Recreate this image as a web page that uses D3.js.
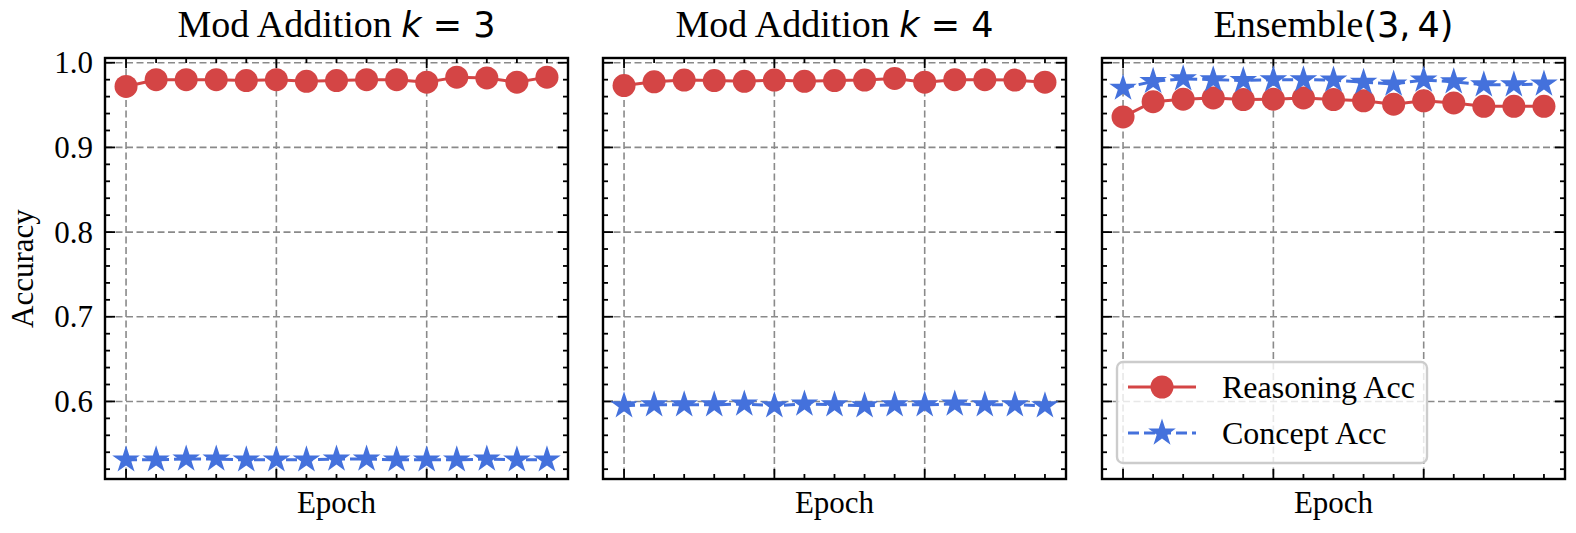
<!DOCTYPE html>
<html>
<head>
<meta charset="utf-8">
<script src="https://cdn.jsdelivr.net/npm/d3@7"></script>
<style>
  body { margin: 0; background: #fff; }
  svg { display: block; }
</style>
</head>
<body>
<div id="chart"></div>
<script>
// data
const epochs = [0, 1, 2, 3, 4, 5, 6, 7, 8, 9, 10, 11, 12, 13, 14];

const reasonK3 = [0.972, 0.980, 0.980, 0.980, 0.979, 0.980, 0.978, 0.979, 0.980, 0.980, 0.977, 0.983, 0.982, 0.977, 0.983];
const conceptK3 = [0.531, 0.531, 0.532, 0.532, 0.531, 0.531, 0.531, 0.532, 0.532, 0.531, 0.531, 0.531, 0.532, 0.531, 0.531];

const reasonK4 = [0.973, 0.9775, 0.9795, 0.979, 0.978, 0.9795, 0.978, 0.979, 0.9795, 0.9815, 0.977, 0.980, 0.980, 0.9795, 0.977];
const conceptK4 = [0.595, 0.596, 0.596, 0.596, 0.597, 0.595, 0.597, 0.596, 0.595, 0.596, 0.596, 0.597, 0.596, 0.596, 0.595];

const reasonEns = [0.936, 0.954, 0.957, 0.9585, 0.9565, 0.957, 0.9585, 0.9565, 0.955, 0.951, 0.955, 0.9525, 0.9485, 0.9485, 0.9485];
const conceptEns = [0.970, 0.978, 0.981, 0.980, 0.979, 0.980, 0.980, 0.9795, 0.977, 0.975, 0.9795, 0.9775, 0.974, 0.974, 0.975];

const yTicks = [0.6, 0.7, 0.8, 0.9, 1.0];
const xMajorTicks = [0, 5, 10];

const panels = [
  { title: [["Mod Addition ", "serif"], ["k", "mathit"], [" = 3", "math"]], reason: reasonK3, concept: conceptK3 },
  { title: [["Mod Addition ", "serif"], ["k", "mathit"], [" = 4", "math"]], reason: reasonK4, concept: conceptK4 },
  { title: [["Ensemble", "serif"], ["(3,\u20094)", "math"]], reason: reasonEns, concept: conceptEns }
];

const redColor = "#d44545";
const blueColor = "#4471dc";
const serif = "'Liberation Serif', 'Times New Roman', serif";
const mathFont = "'DejaVu Sans', sans-serif";
const fontSize = 31;

// layout
const svgWidth = 1576,
    svgHeight = 533,
    panelLefts = [105, 603, 1102],
    panelWidth = 463,
    plotTop = 58,
    plotBottom = 479;

const svg = d3.select("#chart")
  .append("svg")
  .attr("width", svgWidth)
  .attr("height", svgHeight);

// shared y range with matplotlib style 5% margins
const allVals = [].concat(reasonK3, conceptK3, reasonK4, conceptK4, reasonEns, conceptEns);
const yMin = d3.min(allVals), yMax = d3.max(allVals);
const yPad = (yMax - yMin) * 0.05;
const y = d3.scaleLinear().domain([yMin - yPad, yMax + yPad]).range([plotBottom, plotTop]);

const xPad = (d3.max(epochs) - d3.min(epochs)) * 0.05;

// star like matplotlib's "*" marker
function starPath(R) {
  const pts = [];
  for (let i = 0; i < 10; i++) {
    const a = -Math.PI / 2 + i * Math.PI / 5;
    const r = i % 2 === 0 ? R : R * 0.381966;
    pts.push([r * Math.cos(a), r * Math.sin(a)]);
  }
  return "M" + pts.map(p => p.join(",")).join("L") + "Z";
}

const minorY = d3.range(0.52, 1.0051, 0.02);

panels.forEach((p, pi) => {
  const left = panelLefts[pi];
  const x = d3.scaleLinear()
    .domain([d3.min(epochs) - xPad, d3.max(epochs) + xPad])
    .range([left, left + panelWidth]);

  const g = svg.append("g");

  // grid
  g.selectAll(".hgrid").data(yTicks).join("line")
    .attr("x1", left).attr("x2", left + panelWidth)
    .attr("y1", d => y(d)).attr("y2", d => y(d))
    .attr("stroke", "#8a8a8a").attr("stroke-width", 1.6)
    .attr("stroke-dasharray", "7,3.5");
  g.selectAll(".vgrid").data(xMajorTicks).join("line")
    .attr("x1", d => x(d)).attr("x2", d => x(d))
    .attr("y1", plotTop).attr("y2", plotBottom)
    .attr("stroke", "#8a8a8a").attr("stroke-width", 1.6)
    .attr("stroke-dasharray", "7,3.5");

  // ticks, all pointing inwards
  const tickG = g.append("g").attr("stroke", "#000").attr("stroke-width", 1.8);
  minorY.forEach(v => {
    const major = yTicks.some(t => Math.abs(t - v) < 1e-6);
    const len = major ? 10 : 5;
    tickG.append("line").attr("x1", left).attr("x2", left + len).attr("y1", y(v)).attr("y2", y(v));
    tickG.append("line").attr("x1", left + panelWidth).attr("x2", left + panelWidth - len).attr("y1", y(v)).attr("y2", y(v));
  });
  epochs.forEach(e => {
    const len = xMajorTicks.includes(e) ? 10 : 5;
    tickG.append("line").attr("x1", x(e)).attr("x2", x(e)).attr("y1", plotBottom).attr("y2", plotBottom - len);
    tickG.append("line").attr("x1", x(e)).attr("x2", x(e)).attr("y1", plotTop).attr("y2", plotTop + len);
  });

  // lines
  const line = d3.line().x((d, i) => x(epochs[i])).y(d => y(d));
  g.append("path").datum(p.reason)
    .attr("d", line).attr("fill", "none")
    .attr("stroke", redColor).attr("stroke-width", 3);
  g.selectAll(".dot").data(p.reason).join("circle")
    .attr("cx", (d, i) => x(epochs[i])).attr("cy", d => y(d))
    .attr("r", 11.5).attr("fill", redColor);

  g.append("path").datum(p.concept)
    .attr("d", line).attr("fill", "none")
    .attr("stroke", blueColor).attr("stroke-width", 3)
    .attr("stroke-dasharray", "11,5");
  g.selectAll(".star").data(p.concept).join("path")
    .attr("transform", (d, i) => `translate(${x(epochs[i])},${y(d)})`)
    .attr("d", starPath(14.5)).attr("fill", blueColor);

  // frame
  g.append("rect")
    .attr("x", left).attr("y", plotTop)
    .attr("width", panelWidth).attr("height", plotBottom - plotTop)
    .attr("fill", "none").attr("stroke", "#000").attr("stroke-width", 2.4);

  // title
  const title = g.append("text")
    .attr("x", left + panelWidth / 2).attr("y", 37)
    .attr("text-anchor", "middle");
  p.title.forEach(([txt, kind]) => {
    title.append("tspan")
      .attr("font-family", kind === "serif" ? serif : mathFont)
      .attr("font-style", kind === "mathit" ? "oblique" : "normal")
      .attr("font-size", kind === "serif" ? 38 : 35)
      .text(txt);
  });

  // x label
  g.append("text")
    .attr("x", left + panelWidth / 2).attr("y", 513)
    .attr("text-anchor", "middle")
    .attr("font-family", serif).attr("font-size", fontSize)
    .text("Epoch");

  // y tick labels only on first panel
  if (pi === 0) {
    g.selectAll(".ylab").data(yTicks).join("text")
      .attr("x", left - 12).attr("y", d => y(d))
      .attr("dy", "0.34em")
      .attr("text-anchor", "end")
      .attr("font-family", serif).attr("font-size", fontSize)
      .text(d => d.toFixed(1));

    g.append("text")
      .attr("transform", `translate(33,${(plotTop + plotBottom) / 2}) rotate(-90)`)
      .attr("text-anchor", "middle")
      .attr("font-family", serif).attr("font-size", fontSize)
      .text("Accuracy");
  }
});

// legend in the last panel
const legend = svg.append("g");
legend.append("rect")
  .attr("x", 1117).attr("y", 362)
  .attr("width", 310).attr("height", 101)
  .attr("rx", 6)
  .attr("fill", "#fff").attr("fill-opacity", 0.8)
  .attr("stroke", "#cccccc").attr("stroke-width", 2.4);

const legendItems = [
  { label: "Reasoning Acc", color: redColor, marker: "circle", dash: null, yPos: 387 },
  { label: "Concept Acc", color: blueColor, marker: "star", dash: "11,5", yPos: 433 }
];

legendItems.forEach(item => {
  legend.append("line")
    .attr("x1", 1128).attr("x2", 1196)
    .attr("y1", item.yPos).attr("y2", item.yPos)
    .attr("stroke", item.color).attr("stroke-width", 3)
    .attr("stroke-dasharray", item.dash);
  if (item.marker === "circle") {
    legend.append("circle").attr("cx", 1162).attr("cy", item.yPos).attr("r", 11.5).attr("fill", item.color);
  } else {
    legend.append("path").attr("transform", `translate(1162,${item.yPos})`).attr("d", starPath(14.5)).attr("fill", item.color);
  }
  legend.append("text")
    .attr("x", 1222).attr("y", item.yPos)
    .attr("dy", "0.34em")
    .attr("font-family", serif).attr("font-size", fontSize + 1)
    .text(item.label);
});
</script>
</body>
</html>
